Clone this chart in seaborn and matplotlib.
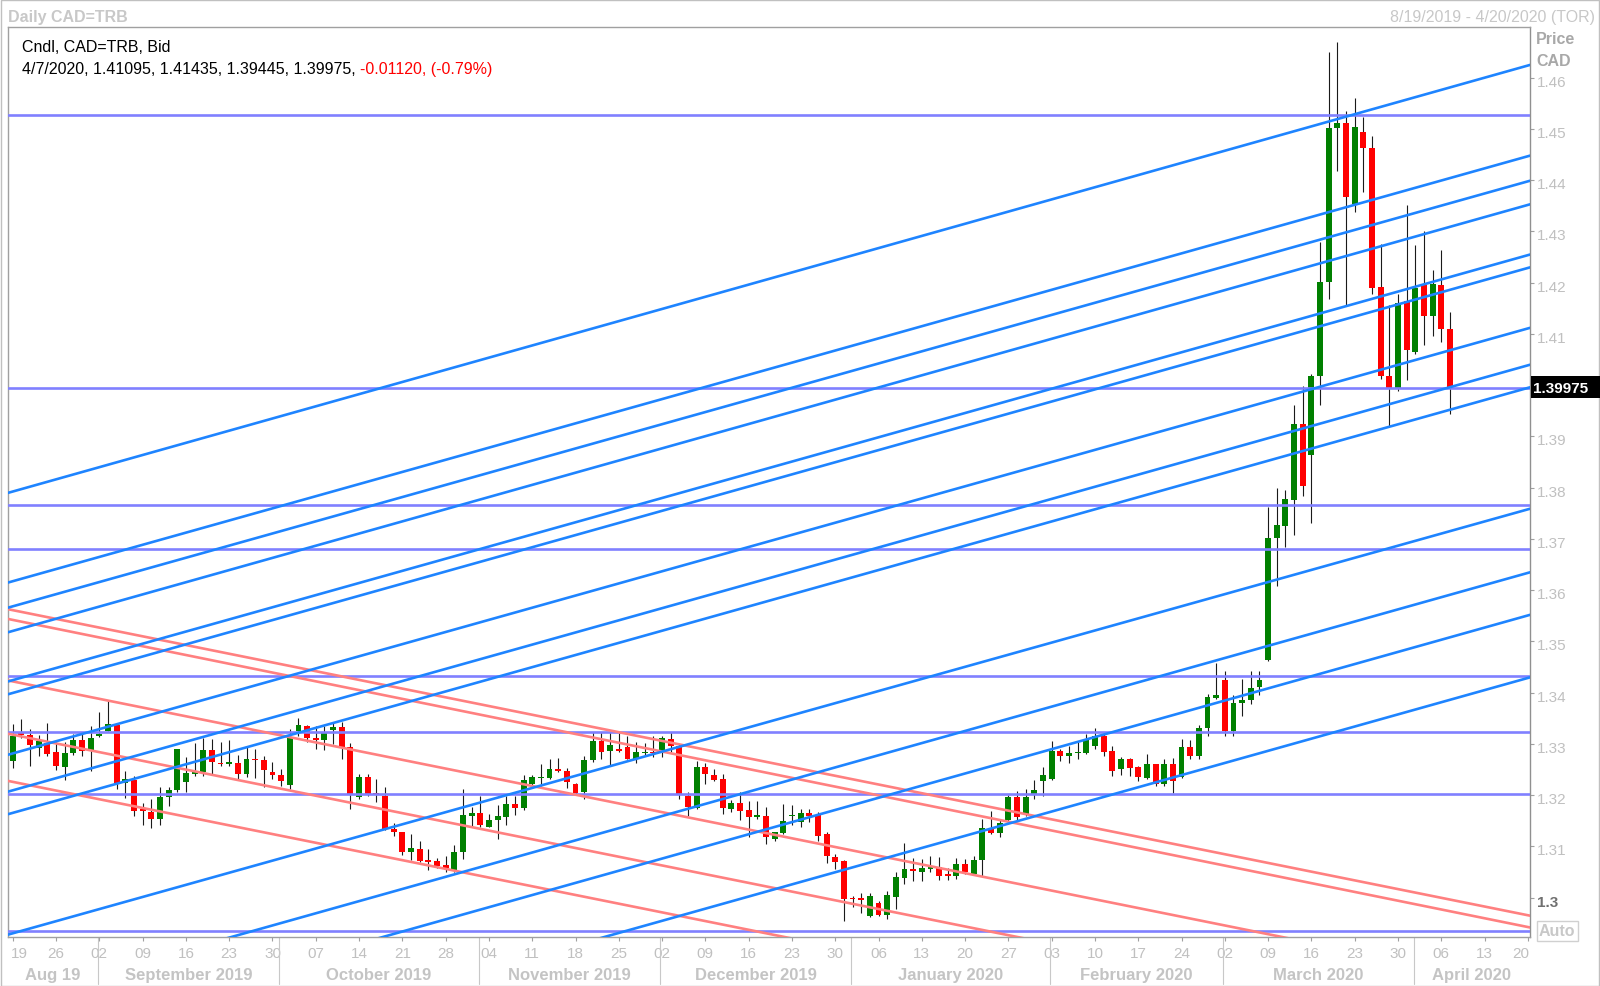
import numpy as np
import pandas as pd
import matplotlib
matplotlib.use("Agg")
import matplotlib.pyplot as plt
import matplotlib.transforms as mtransforms
import seaborn as sns
from matplotlib.patches import Rectangle

sns.set_style("white")
plt.rcParams['font.family'] = ['Liberation Sans', 'DejaVu Sans']

# daily candles, CAD=TRB bid, 19 Aug 2019 - 7 Apr 2020 (weekdays)
dates = pd.bdate_range('2019-08-19', '2020-04-07')

opens = [1.3266, 1.3322, 1.3318, 1.3292, 1.3302, 1.3285, 1.3255, 1.3283, 1.3307, 1.3289,
         1.3315, 1.3326, 1.3337, 1.3224, 1.3230, 1.3174, 1.3168, 1.3154, 1.3196, 1.3210,
         1.3225, 1.3241, 1.3246, 1.3289, 1.3263, 1.3260, 1.3263, 1.3242, 1.3271, 1.3269,
         1.3246, 1.3240, 1.3220, 1.3326, 1.3336, 1.3311, 1.3308, 1.3328, 1.3333, 1.3294,
         1.3196, 1.3236, 1.3205, 1.3199, 1.3135, 1.3128, 1.3089, 1.3095, 1.3074, 1.3071,
         1.3063, 1.3053, 1.3089, 1.3159, 1.3165, 1.3139, 1.3151, 1.3158, 1.3183, 1.3175,
         1.3222, 1.3233, 1.3234, 1.3251, 1.3248, 1.3222, 1.3206, 1.3268, 1.3305, 1.3286,
         1.3290, 1.3294, 1.3271, 1.3283, 1.3285, 1.3285, 1.3310, 1.3297, 1.3199, 1.3175,
         1.3255, 1.3240, 1.3232, 1.3173, 1.3185, 1.3171, 1.3157, 1.3160, 1.3115, 1.3126,
         1.3159, 1.3147, 1.3165, 1.3162, 1.3124, 1.3079, 1.3071, 1.2999, 1.3000, 1.2964,
         1.2990, 1.2967, 1.3002, 1.3039, 1.3056, 1.3050, 1.3056, 1.3060, 1.3046, 1.3042,
         1.3066, 1.3047, 1.3073, 1.3136, 1.3127, 1.3151, 1.3196, 1.3162, 1.3203, 1.3227,
         1.3232, 1.3287, 1.3276, 1.3282, 1.3283, 1.3297, 1.3316, 1.3287, 1.3251, 1.3271,
         1.3255, 1.3233, 1.3261, 1.3222, 1.3261, 1.3235, 1.3294, 1.3276, 1.3331, 1.3389,
         1.3425, 1.3326, 1.3380, 1.3386, 1.3411, 1.3463, 1.3701, 1.3725, 1.3777, 1.3924,
         1.3864, 1.4019, 1.4201, 1.4501, 1.4511, 1.4354, 1.4494, 1.4462, 1.4191, 1.4019,
         1.3994, 1.4165, 1.4064, 1.4195, 1.4136, 1.4195, 1.41095]
highs = [1.3339, 1.3349, 1.3329, 1.3318, 1.3341, 1.3303, 1.3303, 1.3320, 1.3323, 1.3335,
         1.3363, 1.3383, 1.3338, 1.3248, 1.3237, 1.3185, 1.3193, 1.3217, 1.3216, 1.3291,
         1.3274, 1.3302, 1.3311, 1.3310, 1.3303, 1.3308, 1.3279, 1.3294, 1.3290, 1.3276,
         1.3264, 1.3251, 1.3329, 1.3350, 1.3337, 1.3336, 1.3335, 1.3342, 1.3342, 1.3302,
         1.3242, 1.3242, 1.3232, 1.3216, 1.3146, 1.3129, 1.3125, 1.3111, 1.3095, 1.3077,
         1.3081, 1.3103, 1.3212, 1.3178, 1.3198, 1.3163, 1.3181, 1.3198, 1.3198, 1.3240,
         1.3240, 1.3261, 1.3270, 1.3272, 1.3254, 1.3224, 1.3276, 1.3323, 1.3323, 1.3323,
         1.3323, 1.3315, 1.3303, 1.3302, 1.3316, 1.3316, 1.3323, 1.3300, 1.3206, 1.3266,
         1.3263, 1.3251, 1.3242, 1.3190, 1.3206, 1.3188, 1.3188, 1.3177, 1.3129, 1.3183,
         1.3180, 1.3173, 1.3174, 1.3167, 1.3128, 1.3086, 1.3073, 1.3003, 1.3010, 1.3010,
         1.2993, 1.3014, 1.3050, 1.3107, 1.3077, 1.3075, 1.3082, 1.3080, 1.3058, 1.3077,
         1.3076, 1.3082, 1.3154, 1.3170, 1.3154, 1.3200, 1.3209, 1.3212, 1.3229, 1.3255,
         1.3305, 1.3290, 1.3297, 1.3303, 1.3320, 1.3331, 1.3320, 1.3297, 1.3274, 1.3272,
         1.3258, 1.3281, 1.3261, 1.3271, 1.3272, 1.3310, 1.3307, 1.3337, 1.3398, 1.3459,
         1.3443, 1.3395, 1.3427, 1.3442, 1.3442, 1.3762, 1.3799, 1.3796, 1.3961, 1.3998,
         1.4022, 1.4279, 1.4650, 1.4669, 1.4536, 1.4560, 1.4523, 1.4486, 1.4276, 1.4157,
         1.4178, 1.4351, 1.4273, 1.4300, 1.4224, 1.4264, 1.41435]
lows = [1.3253, 1.3311, 1.3257, 1.3277, 1.3277, 1.3250, 1.3229, 1.3279, 1.3276, 1.3248,
        1.3313, 1.3325, 1.3212, 1.3194, 1.3160, 1.3141, 1.3136, 1.3141, 1.3179, 1.3206,
        1.3207, 1.3238, 1.3238, 1.3242, 1.3257, 1.3258, 1.3232, 1.3236, 1.3233, 1.3216,
        1.3232, 1.3218, 1.3212, 1.3316, 1.3303, 1.3290, 1.3289, 1.3300, 1.3271, 1.3173,
        1.3193, 1.3198, 1.3186, 1.3133, 1.3120, 1.3084, 1.3073, 1.3069, 1.3055, 1.3059,
        1.3050, 1.3050, 1.3076, 1.3139, 1.3139, 1.3138, 1.3115, 1.3142, 1.3162, 1.3172,
        1.3220, 1.3219, 1.3232, 1.3246, 1.3215, 1.3203, 1.3193, 1.3264, 1.3271, 1.3259,
        1.3285, 1.3270, 1.3263, 1.3277, 1.3274, 1.3274, 1.3284, 1.3193, 1.3160, 1.3173,
        1.3222, 1.3227, 1.3164, 1.3167, 1.3152, 1.3118, 1.3154, 1.3105, 1.3111, 1.3125,
        1.3141, 1.3139, 1.3147, 1.3110, 1.3068, 1.3056, 1.2954, 1.2982, 1.2971, 1.2962,
        1.2964, 1.2959, 1.2978, 1.3027, 1.3032, 1.3032, 1.3051, 1.3034, 1.3034, 1.3036,
        1.3047, 1.3047, 1.3043, 1.3125, 1.3118, 1.3147, 1.3151, 1.3160, 1.3192, 1.3199,
        1.3229, 1.3266, 1.3263, 1.3271, 1.3281, 1.3290, 1.3277, 1.3237, 1.3240, 1.3237,
        1.3227, 1.3232, 1.3219, 1.3219, 1.3205, 1.3233, 1.3270, 1.3271, 1.3316, 1.3388,
        1.3315, 1.3315, 1.3355, 1.3378, 1.3395, 1.3461, 1.3609, 1.3684, 1.3708, 1.3784,
        1.3731, 1.3961, 1.4169, 1.4419, 1.4156, 1.4338, 1.4377, 1.4178, 1.4012, 1.3921,
        1.3988, 1.4011, 1.4061, 1.4079, 1.4096, 1.4084, 1.39445]
closes = [1.3316, 1.3318, 1.3298, 1.3305, 1.3280, 1.3257, 1.3283, 1.3307, 1.3287, 1.3311,
          1.3320, 1.3339, 1.3224, 1.3232, 1.3170, 1.3169, 1.3153, 1.3196, 1.3211, 1.3290,
          1.3243, 1.3245, 1.3289, 1.3264, 1.3260, 1.3264, 1.3242, 1.3271, 1.3268, 1.3250,
          1.3240, 1.3227, 1.3311, 1.3337, 1.3311, 1.3307, 1.3321, 1.3333, 1.3294, 1.3203,
          1.3235, 1.3203, 1.3203, 1.3134, 1.3128, 1.3089, 1.3097, 1.3071, 1.3069, 1.3061,
          1.3058, 1.3090, 1.3161, 1.3165, 1.3141, 1.3152, 1.3159, 1.3183, 1.3175, 1.3230,
          1.3235, 1.3236, 1.3251, 1.3247, 1.3225, 1.3205, 1.3269, 1.3306, 1.3284, 1.3299,
          1.3287, 1.3271, 1.3284, 1.3285, 1.3283, 1.3311, 1.3297, 1.3203, 1.3177, 1.3255,
          1.3242, 1.3229, 1.3175, 1.3185, 1.3170, 1.3158, 1.3162, 1.3118, 1.3128, 1.3149,
          1.3160, 1.3165, 1.3160, 1.3121, 1.3081, 1.3069, 1.2997, 1.2998, 1.2996, 1.3004,
          1.2967, 1.3006, 1.3040, 1.3056, 1.3052, 1.3058, 1.3060, 1.3042, 1.3042, 1.3066,
          1.3050, 1.3074, 1.3136, 1.3126, 1.3146, 1.3196, 1.3157, 1.3197, 1.3211, 1.3240,
          1.3287, 1.3276, 1.3283, 1.3284, 1.3307, 1.3315, 1.3285, 1.3248, 1.3271, 1.3253,
          1.3235, 1.3261, 1.3222, 1.3261, 1.3227, 1.3294, 1.3277, 1.3331, 1.3391, 1.3396,
          1.3326, 1.3380, 1.3385, 1.3410, 1.3424, 1.3701, 1.3727, 1.3778, 1.3924, 1.3804,
          1.4019, 1.4201, 1.4501, 1.4511, 1.4368, 1.4504, 1.4463, 1.4189, 1.4019, 1.3994,
          1.4161, 1.4068, 1.4189, 1.4136, 1.4198, 1.41095, 1.39975]

# drawn levels and trend channels (price at left edge / right edge of the chart)
level_prices = [1.4527, 1.3995, 1.3767, 1.3681, 1.3433, 1.3324, 1.3202, 1.2936]
up_start = [1.3790, 1.3615, 1.3566, 1.3518, 1.3422, 1.3397, 1.3279, 1.3207, 1.3163,
            1.2928, 1.2801, 1.2718, 1.2597]
up_end = [1.4625, 1.4448, 1.4399, 1.4353, 1.4255, 1.4230, 1.4112, 1.4040, 1.3996,
          1.3759, 1.3635, 1.3552, 1.3430]
down_start = [1.3563, 1.3544, 1.3424, 1.3320, 1.3228]
down_end = [1.2965, 1.2942, 1.2826, 1.2722, 1.2631]

ytick_vals = [1.30, 1.31, 1.32, 1.33, 1.34, 1.35, 1.36, 1.37, 1.38, 1.39,
              1.40, 1.41, 1.42, 1.43, 1.44, 1.45, 1.46]
ytick_labels = ['1.3', '1.31', '1.32', '1.33', '1.34', '1.35', '1.36', '1.37', '1.38',
                '1.39', '1.4', '1.41', '1.42', '1.43', '1.44', '1.45', '1.46']
month_names = ['Aug 19', 'September 2019', 'October 2019', 'November 2019', 'December 2019',
               'January 2020', 'February 2020', 'March 2020', 'April 2020']

x_left, x_right = -0.55, 175.25
y_low, y_high = 1.29234, 1.4699

W, H = 1600, 987
fig = plt.figure(figsize=(16, 9.87), dpi=100)
ax = fig.add_axes([8 / W, 1 - 938 / H, (1530 - 8) / W, (938 - 28) / H])

def fx(px):
    return px / W

def fy(py):
    return 1 - py / H

def shift(artist, dx_px, dy_px):
    # nudge a text by some pixels (dy positive = down)
    off = mtransforms.ScaledTranslation(dx_px / 100, -dy_px / 100, fig.dpi_scale_trans)
    artist.set_transform(artist.get_transform() + off)

# candles
df = pd.DataFrame({'date': dates, 'open': opens, 'high': highs, 'low': lows, 'close': closes})
df['idx'] = np.arange(len(df))
df['up'] = df['close'] >= df['open']
body_lo = np.minimum(df['open'], df['close'])
body_h = np.maximum((df['close'] - df['open']).abs(), 0.00015)
ax.vlines(df['idx'], df['low'], df['high'], color='#1a1a1a', lw=0.8, zorder=2)
ax.bar(df['idx'], body_h, bottom=body_lo, width=0.68,
       color=np.where(df['up'], '#008000', '#ff0000'), linewidth=0, zorder=3)

# level lines and channels
rows = []
for k, p in enumerate(level_prices):
    rows += [('h%d' % k, 'level', x_left, p), ('h%d' % k, 'level', x_right, p)]
for k, (a, b) in enumerate(zip(down_start, down_end)):
    rows += [('d%d' % k, 'down', x_left, a), ('d%d' % k, 'down', x_right, b)]
for k, (a, b) in enumerate(zip(up_start, up_end)):
    rows += [('u%d' % k, 'up', x_left, a), ('u%d' % k, 'up', x_right, b)]
lines = pd.DataFrame(rows, columns=['name', 'kind', 'x', 'price'])
sns.lineplot(data=lines, x='x', y='price', hue='kind', units='name', estimator=None,
             hue_order=['level', 'down', 'up'],
             palette={'level': '#8080ff', 'down': '#ff8080', 'up': '#1e84ff'},
             lw=1.9, legend=False, ax=ax, zorder=4)

ax.set_xlim(x_left, x_right)
ax.set_ylim(y_low, y_high)
ax.set_xlabel('')
ax.set_ylabel('')

# axes frame
for s in ax.spines.values():
    s.set_color('#a0a0a0')
    s.set_linewidth(1.0)
ax.spines['right'].set_color('#909090')

# price axis on the right
ax.yaxis.tick_right()
ax.set_yticks(ytick_vals)
ax.set_yticklabels(ytick_labels)
ax.tick_params(axis='y', color='#a0a0a0', labelcolor='#c0c0c0', labelsize=11,
               length=3, width=0.8, pad=2, direction='out', right=True, left=False)
for v, lab in zip(ytick_vals, ax.get_yticklabels()):
    shift(lab, 0, 2.5)
    if abs(v - closes[-1]) < 0.002:
        lab.set_visible(False)  # hidden under the last-price tag
lbl0 = ax.get_yticklabels()[0]
lbl0.set_fontweight('bold')
lbl0.set_color('#707070')

# weekly date axis (Mondays)
all_days = pd.bdate_range('2019-08-19', '2020-04-20')
mondays = [i for i, d in enumerate(all_days) if d.weekday() == 0]
ax.set_xticks(mondays)
ax.set_xticklabels(['%02d' % all_days[i].day for i in mondays])
ax.tick_params(axis='x', color='#a0a0a0', labelcolor='#c0c0c0', labelsize=11,
               length=3, width=0.8, pad=3, direction='out', bottom=True)
xl = ax.get_xticklabels()
shift(xl[0], 7, 1)
shift(xl[-1], -7, 1)
for lab in xl[1:-1]:
    shift(lab, 0, 1)

# month bands
month_id = all_days.year * 12 + all_days.month
starts = [0] + [i for i in range(1, len(all_days)) if month_id[i] != month_id[i - 1]]
edges = [x_left] + [s - 0.2 for s in starts[1:]] + [x_right]
xt = ax.get_xaxis_transform()
for k, name in enumerate(month_names):
    t = ax.text((edges[k] + edges[k + 1]) / 2, -0.0385, name, transform=xt, ha='center',
                va='center', fontsize=12, fontweight='bold', color='#c4c4c4', clip_on=False)
    shift(t, 0, 2)
for e in edges[1:-1]:
    ax.plot([e, e], [0, -0.052], transform=xt, color='#c8c8c8', lw=0.8, clip_on=False)

# header texts
fig.text(fx(8), fy(17.5), 'Daily CAD=TRB', fontsize=11.5, fontweight='bold', color='#c8c8c8',
         va='center')
fig.text(fx(1595), fy(17.5), '8/19/2019 - 4/20/2020 (TOR)', fontsize=11.5, color='#c8c8c8',
         va='center', ha='right')
fig.text(fx(22), fy(47.5), 'Cndl, CAD=TRB, Bid', fontsize=11.5, color='black', va='center')

last = df.iloc[-1]
chg = closes[-1] - closes[-2]
pct = chg / closes[-2] * 100
d = last['date']
info = '%d/%d/%d, %.5f, %.5f, %.5f, %.5f,' % (d.month, d.day, d.year, last['open'],
                                             last['high'], last['low'], last['close'])
t1 = fig.text(fx(22), fy(69.5), info, fontsize=11.5, color='black', va='center')
fig.canvas.draw()
bb = t1.get_window_extent(renderer=fig.canvas.get_renderer())
fig.text((bb.x1 + 4.5) / W, fy(69.5), '%.5f, (%.2f%%)' % (chg, pct), fontsize=11.5,
         color='#ff0000', va='center')

fig.text(fx(1536), fy(40), 'Price', fontsize=11.5, fontweight='bold', color='#a8a8a8',
         va='center')
fig.text(fx(1536), fy(61.5), 'CAD', fontsize=11.5, fontweight='bold', color='#a8a8a8',
         va='center')

# last price tag
yp = 130 + (1.45 - closes[-1]) * 5125
fig.patches.append(Rectangle((fx(1531), fy(yp + 11)), fx(69), 22 / H, transform=fig.transFigure,
                             facecolor='black', edgecolor='none', zorder=5))
fig.text(fx(1533), fy(yp + 1), '%.5f' % closes[-1], fontsize=11, fontweight='bold',
         color='white', va='center', zorder=6)

# "Auto" box
fig.text(fx(1539), fy(932), 'Auto', fontsize=11.5, fontweight='bold', color='#c8c8c8',
         va='center', bbox=dict(boxstyle='square,pad=0.15', fc='white', ec='#d0d0d0', lw=1))

# outer frame
fig.patches.append(Rectangle((0.5 / W, 0.5 / H), 1 - 1.5 / W, 1 - 1.5 / H,
                             transform=fig.transFigure, fill=False, ec='#c0c0c0', lw=1))

fig.savefig('out.png', dpi=100, facecolor='white')
